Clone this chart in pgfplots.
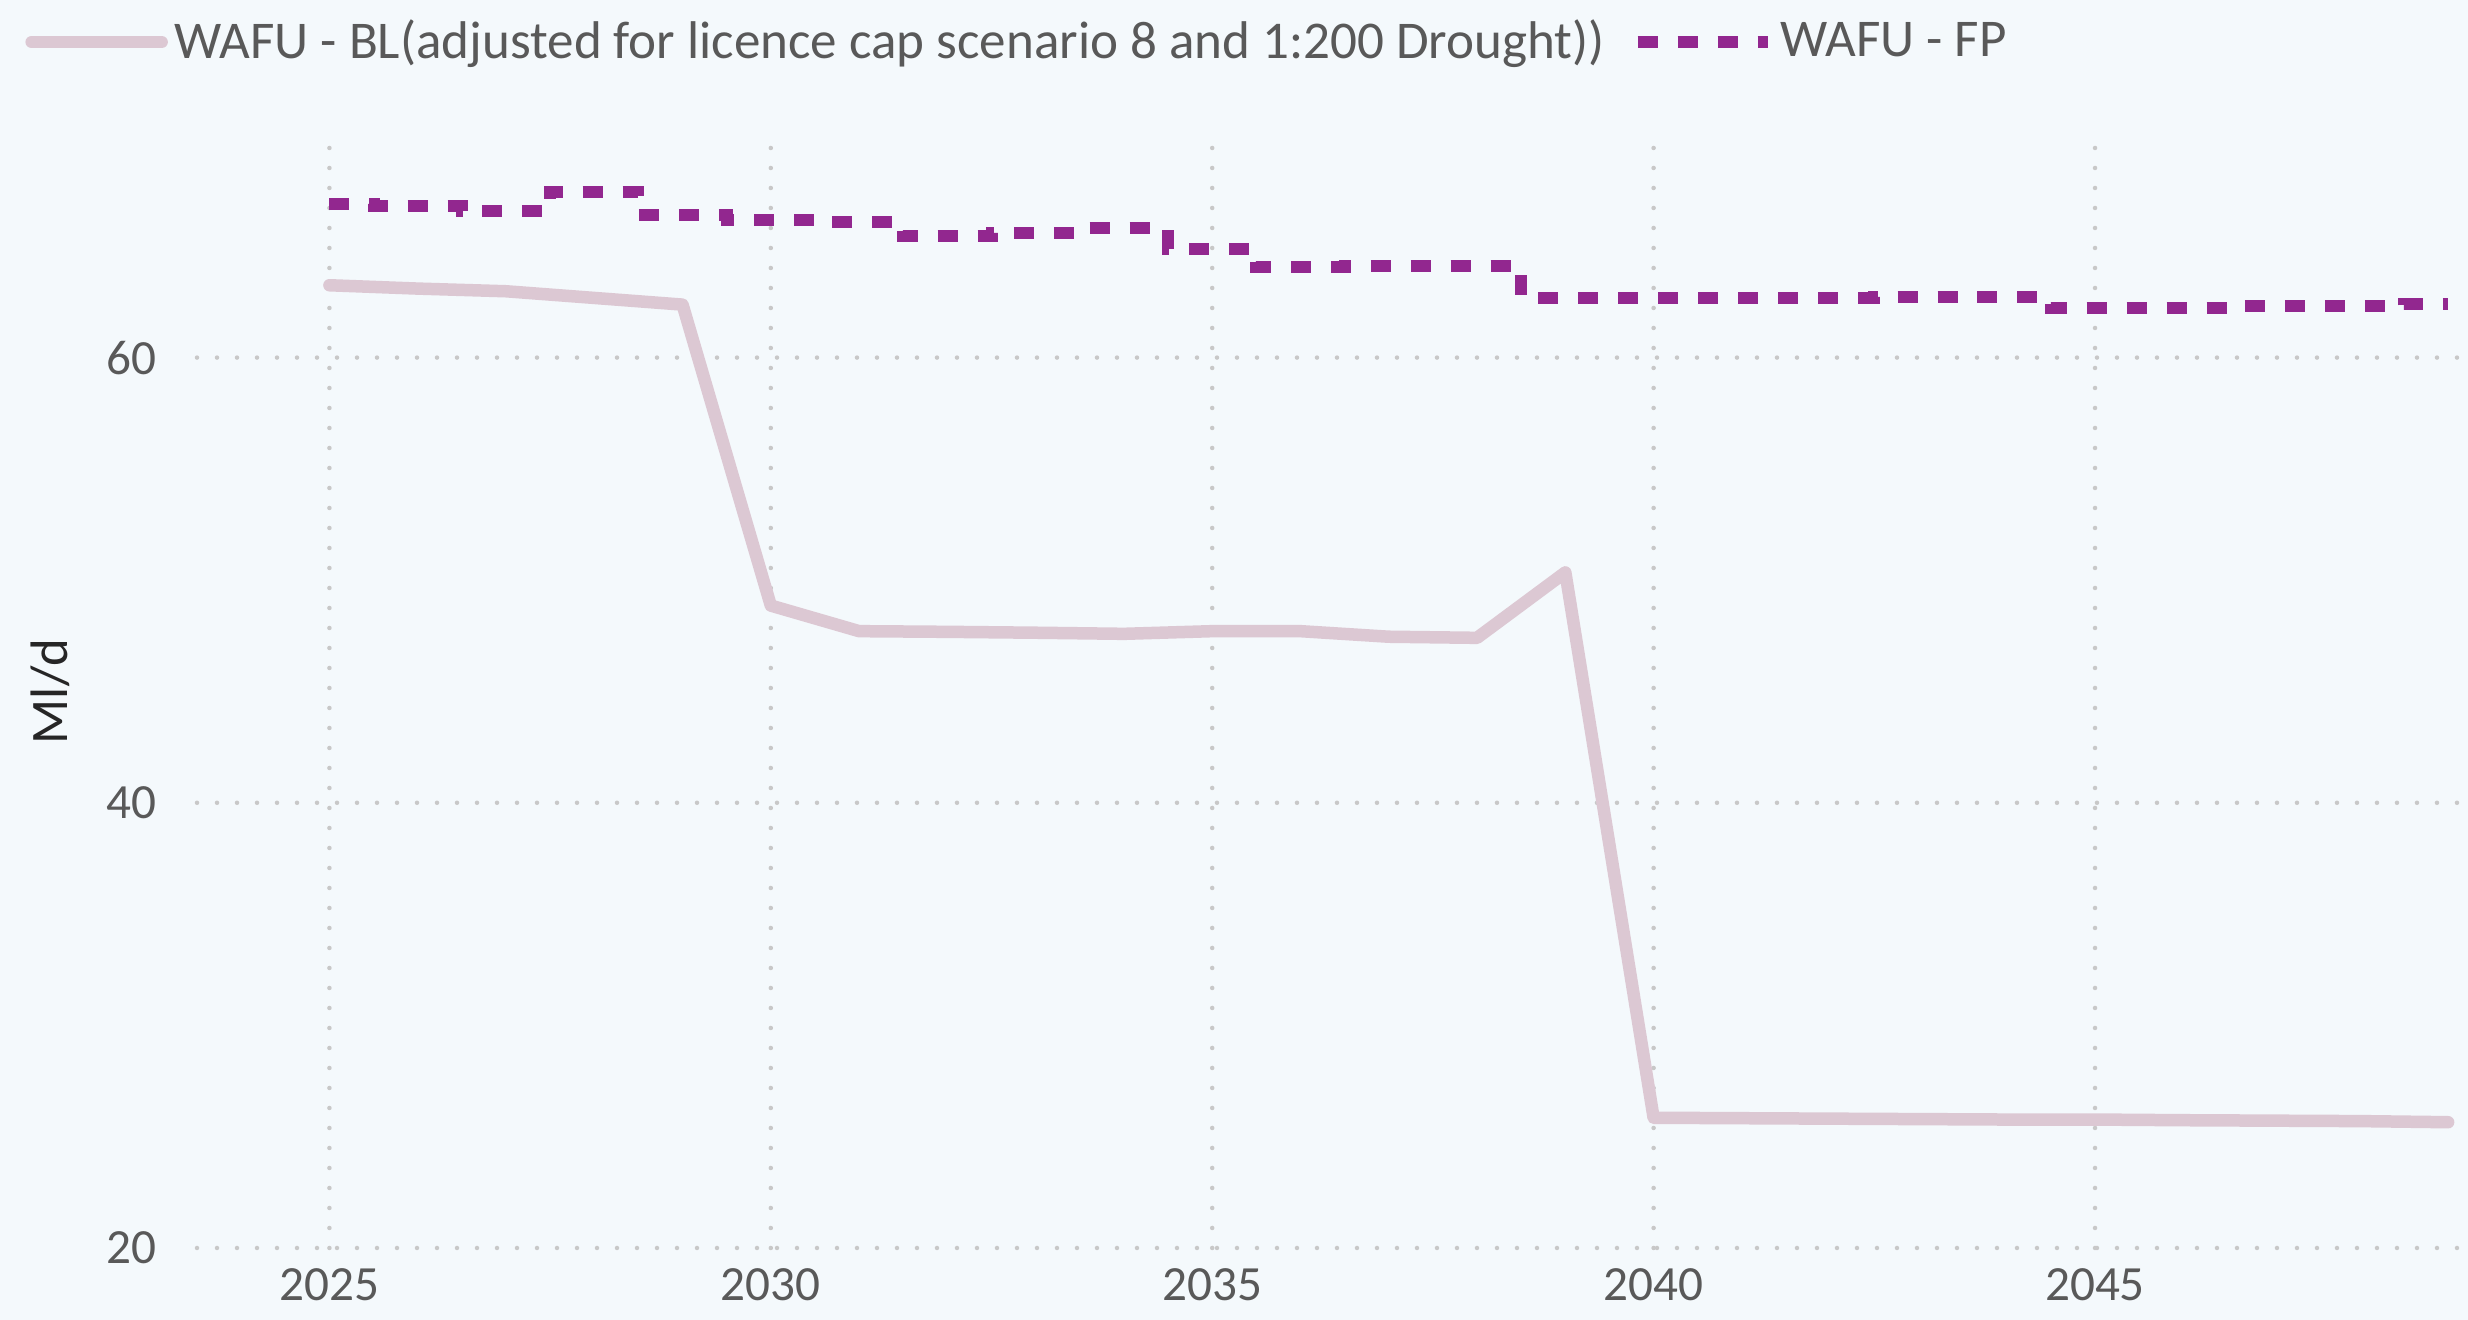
\documentclass[border=0pt]{standalone}
\usepackage{pgfplots}
\pgfplotsset{compat=1.18}
\usepackage{fontspec}
\setmainfont{Carlito}
\definecolor{bg}{HTML}{F4F9FC}
\definecolor{blc}{HTML}{DCC8D3}
\definecolor{fpc}{HTML}{92278F}
\definecolor{txt}{HTML}{595959}
\definecolor{gridc}{HTML}{C8C8C8}
\begin{document}
\begin{tikzpicture}
\fill[bg] (0,0) rectangle (24.68cm,13.2cm);
\path[use as bounding box] (0,0) rectangle (24.68cm,13.2cm);
\begin{axis}[
  at={(1.97cm,0.72cm)}, anchor=south west,
  scale only axis, width=22.67cm, height=11.13cm,
  xmin=2023.5, xmax=2049.18, ymin=20, ymax=70,
  xtick={2025,2030,2035,2040,2045}, ytick={20,40,60},
  axis line style={draw=none}, major tick length=0pt,
  grid=major,
  major grid style={gridc, line width=0.045cm, dash pattern=on 0pt off 0.2cm, line cap=round},
  /pgf/number format/assume math mode=true,
  /pgf/number format/1000 sep={},
  tick label style={font=\fontsize{14}{16}\selectfont, text=txt},
  xticklabel style={anchor=north, inner sep=0pt, yshift=-0.2cm},
  yticklabel style={anchor=east, inner sep=0pt, xshift=-0.4cm},
  ylabel={Ml/d},
  ylabel style={at={(axis description cs:-0.0648,0.5)}, anchor=center, font=\fontsize{15}{18}\selectfont, text=black!85},
  legend style={at={(axis description cs:-0.076,1.0835)}, anchor=west, draw=none, fill=none,
    font=\fontsize{15.1}{18}\selectfont, text=txt, inner sep=0pt,
    /tikz/every even column/.append style={column sep=0.2cm}},
  legend columns=2, legend cell align=left,
  legend image code/.code={\draw[#1] (0cm,0cm) -- (1.3cm,0cm);},
]
\addplot[blc, line width=0.125cm, line cap=round, line join=round] coordinates {
(2025,63.25) (2026,63.1) (2027,62.98) (2028,62.68) (2029,62.38)
(2030,48.86) (2031,47.71) (2032,47.68) (2033,47.64) (2034,47.59)
(2035,47.71) (2036,47.71) (2037,47.46) (2038,47.41) (2039,50.35)
(2040,25.85) (2041,25.83) (2042,25.81) (2043,25.79) (2044,25.77)
(2045,25.77) (2046,25.74) (2047,25.72) (2048,25.70) (2049,25.65)
};
\addlegendentry{WAFU - BL(adjusted for licence cap scenario 8 and 1:200 Drought))}
\addplot[fpc, line width=0.12cm, dash pattern=on 0.2cm off 0.2cm, const plot mark mid] coordinates {
(2025,66.90) (2026,66.82) (2027,66.58) (2028,67.46) (2029,66.39)
(2030,66.18) (2031,66.10) (2032,65.44) (2033,65.60) (2034,65.80)
(2035,64.87) (2036,64.08) (2037,64.10) (2038,64.12) (2039,62.67)
(2040,62.67) (2041,62.68) (2042,62.68) (2043,62.70) (2044,62.71)
(2045,62.23) (2046,62.23) (2047,62.31) (2048,62.31) (2049,62.40)
};
\addlegendentry{WAFU - FP}
\end{axis}
\end{tikzpicture}
\end{document}
